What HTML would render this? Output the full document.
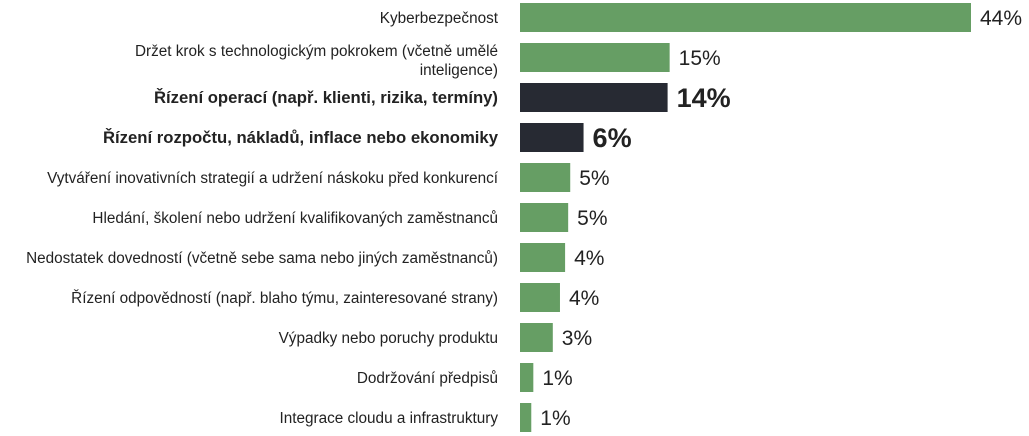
<!DOCTYPE html>
<html><head><meta charset="utf-8"><style>
body{margin:0;width:1029px;height:436px;background:#fff;overflow:hidden;font-family:"Liberation Sans",Arial,sans-serif}
svg{display:block}
</style></head><body>
<svg id="chart" width="1029" height="436" xmlns="http://www.w3.org/2000/svg"></svg>
<script>
const categories=["Kyberbezpečnost","Držet krok s technologickým pokrokem (včetně umělé|inteligence)","Řízení operací (např. klienti, rizika, termíny)","Řízení rozpočtu, nákladů, inflace nebo ekonomiky","Vytváření inovativních strategií a udržení náskoku před konkurencí","Hledání, školení nebo udržení kvalifikovaných zaměstnanců","Nedostatek dovedností (včetně sebe sama nebo jiných zaměstnanců)","Řízení odpovědností (např. blaho týmu, zainteresované strany)","Výpadky nebo poruchy produktu","Dodržování předpisů","Integrace cloudu a infrastruktury"];
const values=[44,14.6,14.4,6.2,4.9,4.7,4.4,3.9,3.2,1.3,1.1];
const valueLabels=["44%","15%","14%","6%","5%","5%","4%","4%","3%","1%","1%"];
const highlighted=[false,false,true,true,false,false,false,false,false,false,false];
const svg=document.getElementById('chart');
const NS="http://www.w3.org/2000/svg";
const x0=520,scale=451/44;
const xs=v=>v*scale;
const yc=i=>18+i*40;
categories.forEach((c,i)=>{
  const hl=highlighted[i];
  const r=document.createElementNS(NS,'rect');
  
  
  r.setAttribute('x',x0);r.setAttribute('y',yc(i)-15);
  r.setAttribute('width',xs(values[i]));r.setAttribute('height',29);
  r.setAttribute('fill',hl?'#272a33':'#669e64');
  svg.appendChild(r);
  const t=document.createElementNS(NS,'text');
  
  
  t.setAttribute('x',498);t.setAttribute('text-anchor','end');
  t.setAttribute('font-size',hl?16.7:15.3);
  if(hl)t.setAttribute('font-weight','bold');
  t.setAttribute('fill','#222');
  const parts=c.split('|');
  parts.forEach((p,k)=>{
    const ts=document.createElementNS(NS,'tspan');
    ts.setAttribute('x',498);
    ts.setAttribute('y',yc(i)+5-(parts.length-1)*7+k*19);
    ts.textContent=p;t.appendChild(ts);
  });
  svg.appendChild(t);
  const v=document.createElementNS(NS,'text');
  
  
  v.setAttribute('x',x0+xs(values[i])+9);
  v.setAttribute('y',yc(i)+(hl?9:7));
  v.setAttribute('font-size',hl?27:21);
  if(hl)v.setAttribute('font-weight','bold');
  v.setAttribute('fill','#222');
  v.textContent=valueLabels[i];
  svg.appendChild(v);
});
</script>
</body></html>
